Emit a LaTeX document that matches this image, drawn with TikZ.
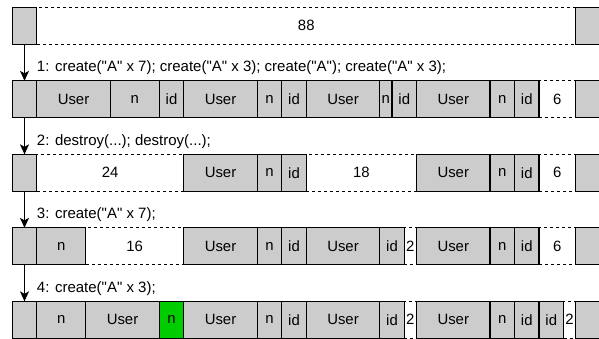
\documentclass[tikz,border=0pt]{standalone}
\usepackage{fontspec}
\setmainfont{Liberation Sans}[Ligatures=TeXOff]
\usetikzlibrary{arrows.meta}
\definecolor{blkgray}{RGB}{204,204,204}
\definecolor{blkgreen}{RGB}{0,204,0}
\newcommand\memrow[2]{%
  \foreach \s/\e/\lab/\st/\nm in {#2} {
    \pgfmathsetmacro\w{(\e-\s)*6.125}
    \pgfmathsetmacro\cx{(\s+\e)/2}
    \pgfmathsetmacro\cy{1.2+12*#1+3}
    \node[\st, minimum width=\w pt] (\nm) at (\cx,\cy) {\lab};
  }}
\begin{document}
\begin{tikzpicture}[x=6.125pt,y=-6.125pt,
  blk/.style={draw=black, line width=1.2pt, rectangle, inner sep=0pt, outer sep=0pt,
    minimum height=36.75pt, font=\fontsize{14.9}{17}\selectfont},
  used/.style={blk, fill=blkgray},
  hot/.style={blk, fill=blkgreen},
  free/.style={blk, fill=white, dash pattern=on 3pt off 3pt},
  edgebox/.style={blk, fill=blkgray},
  arr/.style={line width=1.2pt, -{Stealth[length=10pt,width=9pt,inset=2.5pt]}},
  lbl/.style={anchor=west, inner sep=0pt, font=\fontsize{15}{17}\selectfont}]
\useasboundingbox (0,0) rectangle (97.796,55.184);

\memrow{0}{6/94/88/free/r0f1, 2/6//edgebox/r0L, 94/98//edgebox/r0R}
\memrow{1}{88/94/6/free/r1f1,
  6/18/User/used/r1a, 18/26/n/used/r1b, 26/30/id/used/r1c,
  30/42/User/used/r1d, 42/46/n/used/r1e, 46/50/id/used/r1f,
  50/62/User/used/r1g, 62/64/n/used/r1h, 64/68/id/used/r1i,
  68/80/User/used/r1j, 80/84/n/used/r1k, 84/88/id/used/r1l,
  2/6//edgebox/r1L, 94/98//edgebox/r1R}
\memrow{2}{6/30/24/free/r2f1, 50/68/18/free/r2f2, 88/94/6/free/r2f3,
  30/42/User/used/r2a, 42/46/n/used/r2b, 46/50/id/used/r2c,
  68/80/User/used/r2d, 80/84/n/used/r2e, 84/88/id/used/r2f,
  2/6//edgebox/r2L, 94/98//edgebox/r2R}
\memrow{3}{14/30/16/free/r3f1, 66/68/2/free/r3f2, 88/94/6/free/r3f3,
  6/14/n/used/r3a,
  30/42/User/used/r3b, 42/46/n/used/r3c, 46/50/id/used/r3d,
  50/62/User/used/r3e, 62/66/id/used/r3f,
  68/80/User/used/r3g, 80/84/n/used/r3h, 84/88/id/used/r3i,
  2/6//edgebox/r3L, 94/98//edgebox/r3R}
\memrow{4}{66/68/2/free/r4f1, 92/94/2/free/r4f2,
  6/14/n/used/r4a, 14/26/User/used/r4b, 26/30/n/hot/r4c,
  30/42/User/used/r4d, 42/46/n/used/r4e, 46/50/id/used/r4f,
  50/62/User/used/r4g, 62/66/id/used/r4h,
  68/80/User/used/r4i, 80/84/n/used/r4j, 84/88/id/used/r4k, 88/92/id/used/r4l,
  2/6//edgebox/r4L, 94/98//edgebox/r4R}

\draw[arr] (r0L.south) -- (r1L.north);
\draw[arr] (r1L.south) -- (r2L.north);
\draw[arr] (r2L.south) -- (r3L.north);
\draw[arr] (r3L.south) -- (r4L.north);

\node[lbl] (t1) at (6,11.05) {1: create("A" x 7); create("A" x 3); create("A"); create("A" x 3);};
\node[lbl] (t2) at (6,23.05) {2: destroy(...); destroy(...);};
\node[lbl] (t3) at (6,35.05) {3: create("A" x 7);};
\node[lbl] (t4) at (6,47.05) {4: create("A" x 3);};
\end{tikzpicture}
\end{document}
